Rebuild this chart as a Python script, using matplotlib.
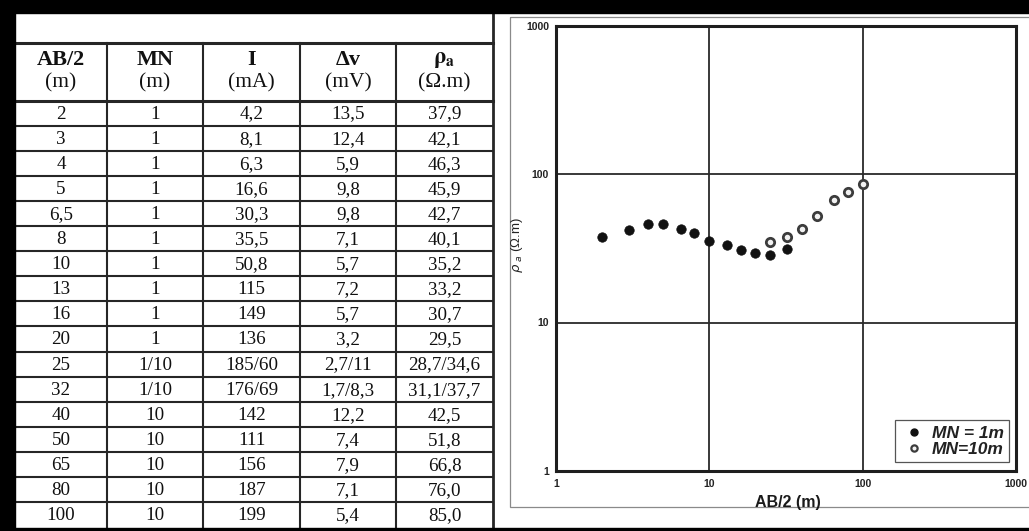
import matplotlib
matplotlib.use('Agg')
import matplotlib.pyplot as plt
from matplotlib.lines import Line2D
from matplotlib.patches import Rectangle

# ---------------- table data ----------------
ab2 = ['2', '3', '4', '5', '6,5', '8', '10', '13', '16', '20', '25', '32', '40', '50', '65', '80', '100']
mn = ['1'] * 10 + ['1/10', '1/10'] + ['10'] * 5
current = ['4,2', '8,1', '6,3', '16,6', '30,3', '35,5', '50,8', '115', '149', '136',
           '185/60', '176/69', '142', '111', '156', '187', '199']
dv = ['13,5', '12,4', '5,9', '9,8', '9,8', '7,1', '5,7', '7,2', '5,7', '3,2',
      '2,7/11', '1,7/8,3', '12,2', '7,4', '7,9', '7,1', '5,4']
rho = ['37,9', '42,1', '46,3', '45,9', '42,7', '40,1', '35,2', '33,2', '30,7', '29,5',
       '28,7/34,6', '31,1/37,7', '42,5', '51,8', '66,8', '76,0', '85,0']
header_top = ['AB/2', 'MN', 'I', 'Δv', r'$\mathbf{\rho}_{\mathbf{a}}$']
header_units = ['(m)', '(m)', '(mA)', '(mV)', '(Ω.m)']

# ---------------- chart data ----------------
ab_mn1 = [2, 3, 4, 5, 6.5, 8, 10, 13, 16, 20, 25, 32]
rho_mn1 = [37.9, 42.1, 46.3, 45.9, 42.7, 40.1, 35.2, 33.2, 30.7, 29.5, 28.7, 31.1]
ab_mn10 = [25, 32, 40, 50, 65, 80, 100]
rho_mn10 = [34.6, 37.7, 42.5, 51.8, 66.8, 76.0, 85.0]
decade_ticks = [1, 10, 100, 1000]
decade_labels = ['1', '10', '100', '1000']

W, H = 1029, 531
fig = plt.figure(figsize=(W / 100, H / 100), dpi=100, facecolor='white')

bg = fig.add_axes([0, 0, 1, 1])
bg.set_xlim(0, W)
bg.set_ylim(H, 0)
bg.axis('off')

# black scan borders
bg.add_patch(Rectangle((0, 0), W, 13, color='black', zorder=5))
bg.add_patch(Rectangle((0, 0), 14.5, H, color='black', zorder=5))
bg.add_patch(Rectangle((0, 528), W, 3, color='black', zorder=5))

# ---------------- table ----------------
col_edges = [15, 107, 203, 300, 396, 493]
top_line = 43
head_bottom = 100.5
row_h = 25.1
n = len(ab2)
line_col = '#262626'
serif = 'Liberation Serif'

bg.plot([15, 493], [top_line, top_line], color=line_col, lw=2.2, zorder=3)
bg.plot([15, 493], [head_bottom, head_bottom], color=line_col, lw=2.2, zorder=3)
for i in range(1, n):
    y = head_bottom + i * row_h
    bg.plot([15, 493], [y, y], color=line_col, lw=1.5, zorder=3)
for x in col_edges[1:-1]:
    bg.plot([x, x], [top_line, 528], color=line_col, lw=1.5, zorder=3)
bg.plot([493, 493], [13, 528], color=line_col, lw=2.0, zorder=3)

centers = [(col_edges[i] + col_edges[i + 1]) / 2 for i in range(5)]
for j, c in enumerate(centers):
    bg.text(c, 60, header_top[j], ha='center', va='center', fontsize=16,
            fontweight='bold', family=serif, math_fontfamily='stix', color='#111')
    bg.text(c, 83, header_units[j], ha='center', va='center', fontsize=15.5,
            family=serif, color='#111')

columns = [ab2, mn, current, dv, rho]
for i in range(n):
    yc = head_bottom + (i + 0.5) * row_h + 1
    for j, col in enumerate(columns):
        bg.text(centers[j], yc, col[i], ha='center', va='center', fontsize=13.7,
                family=serif, color='#101010')

# ---------------- chart panel frame ----------------
bg.add_patch(Rectangle((510, 17), 540, 490, fill=False, lw=0.9, ec='#8a8a8a', zorder=2))

# ---------------- chart ----------------
L, R, T, B = 556, 1016, 25.5, 471
ax = fig.add_axes([L / W, (H - B) / H, (R - L) / W, (B - T) / H])
ax.set_xscale('log')
ax.set_yscale('log')
ax.set_xlim(1, 1000)
ax.set_ylim(1, 1000)
ax.set_facecolor('white')
ax.set_xticks(decade_ticks)
ax.set_xticklabels(decade_labels)
ax.set_yticks(decade_ticks)
ax.set_yticklabels(decade_labels)
ax.minorticks_off()
ax.tick_params(axis='both', length=0, labelsize=7.5, colors='#222')
ax.tick_params(axis='x', pad=6)
ax.tick_params(axis='y', pad=5)
for lab in ax.get_xticklabels() + ax.get_yticklabels():
    lab.set_family('Liberation Sans')
    lab.set_fontweight('bold')
ax.grid(True, which='major', color='#2a2a2a', lw=1.3)
for s in ax.spines.values():
    s.set_linewidth(2.2)
    s.set_color('#1e1e1e')

ax.plot(ab_mn1, rho_mn1, 'o', ms=6.8, mfc='#111111', mec='#111111', mew=0.5,
        ls='none', zorder=4, label='MN = 1m')
ax.plot(ab_mn10, rho_mn10, 'o', ms=6.0, mfc='#f2f2f2', mec='#3c3c3c', mew=2.0,
        ls='none', zorder=4, label='MN=10m')

ax.set_xlabel('AB/2 (m)', fontsize=11.5, fontweight='bold', family='Liberation Sans',
              color='#1a1a1a')
ax.xaxis.set_label_coords((788 - L) / (R - L), (B - 495) / (B - T))
ax.set_ylabel(r'$\rho_{\ a}$ (Ω.m)', fontsize=9.5, family='Liberation Sans', color='#222')
ax.yaxis.set_label_coords((525 - L) / (R - L), (B - 245) / (B - T))

handles = [
    Line2D([], [], marker='o', ls='none', ms=5, mfc='#111', mec='#111'),
    Line2D([], [], marker='o', ls='none', ms=4.5, mfc='#f2f2f2', mec='#3c3c3c', mew=1.6),
]
leg = ax.legend(handles, ['MN = 1m', 'MN=10m'], loc='lower right',
                bbox_to_anchor=(0.985, 0.02), borderaxespad=0, fancybox=False,
                framealpha=1, edgecolor='#555', handlelength=1.6, handletextpad=0.25,
                labelspacing=0.05, borderpad=0.3,
                prop={'family': 'Liberation Sans', 'weight': 'bold', 'style': 'italic',
                      'size': 12.5})
leg.get_frame().set_linewidth(0.9)
for t in leg.get_texts():
    t.set_color('#222')

fig.savefig('out.png', dpi=100, facecolor='white')
